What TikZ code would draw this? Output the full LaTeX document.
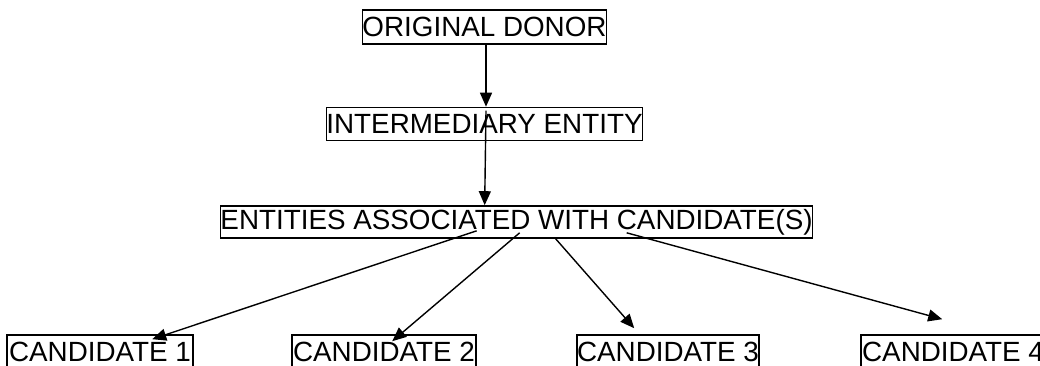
\documentclass[tikz,border=0pt]{standalone}
\usepackage{fontspec}
\setmainfont{Liberation Sans}
\usetikzlibrary{arrows.meta,calc}
\begin{document}
\begin{tikzpicture}[x=1pt,y=-1pt,
  box/.style={draw,line width=1.6pt,inner sep=0pt,font=\fontsize{27.8}{30}\selectfont},
  arr/.style={line width=1.4pt,-{Triangle[length=14pt,width=12pt]}}]
\useasboundingbox (0,0) rectangle (1040,366);
\node[box,minimum width=243,minimum height=34] (donor) at (484.5,27) {ORIGINAL DONOR};
\node[box,minimum width=315,minimum height=33] (inter) at (484.5,124) {INTERMEDIARY ENTITY};
\node[box,minimum width=591,minimum height=32] (ent) at (516.5,222) {ENTITIES ASSOCIATED WITH CANDIDATE(S)};
\node[box,minimum width=186,minimum height=34] (c1) at (100,352) {CANDIDATE 1};
\node[box,minimum width=184,minimum height=34] (c2) at (384,352) {CANDIDATE 2};
\node[box,minimum width=182,minimum height=34] (c3) at (668,352) {CANDIDATE 3};
\node[box,minimum width=184,minimum height=34] (c4) at (953,352) {CANDIDATE 4};
\draw[arr] ($(donor.south)+(1.5,0)$) -- ($(inter.north)+(1.5,0)$);
\draw[arr] ($(inter.north)+(1.5,4)$) -- ($(ent.north west)+(265,0)$);
\draw[arr] ($(ent.south west)+(257,-8)$) -- ($(c1.north west)+(146,5)$);
\draw[arr] ($(ent.south west)+(300,-6)$) -- ($(c2.north west)+(101,7)$);
\draw[arr] ($(ent.south west)+(336,0)$) -- ($(c3.north west)+(58,-6)$);
\draw[arr] ($(ent.south west)+(407,-6)$) -- ($(c4.north west)+(82,-15)$);
\end{tikzpicture}
\end{document}
